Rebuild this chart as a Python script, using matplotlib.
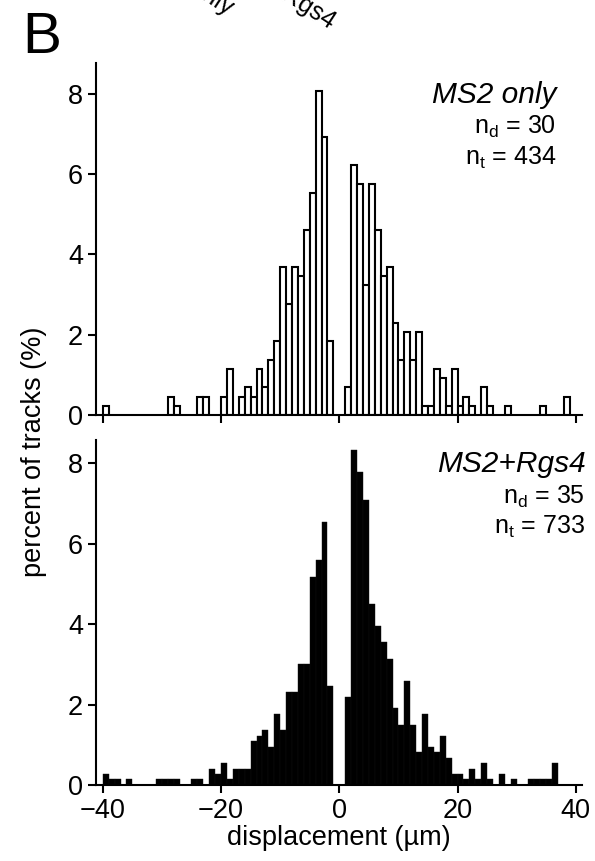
import numpy as np
import matplotlib
matplotlib.use("Agg")
import matplotlib.pyplot as plt

plt.rcParams['font.family'] = ['Liberation Sans', 'DejaVu Sans']
plt.rcParams['mathtext.fontset'] = 'custom'
plt.rcParams['mathtext.rm'] = 'Liberation Sans'
plt.rcParams['axes.unicode_minus'] = True

# left edges of the 1 um displacement bins
bin_left = list(range(-40, 40))

# percent of tracks per bin, MS2 only (n_t = 434)
ms2_only = [
    0.23, 0, 0, 0, 0, 0, 0, 0, 0, 0,
    0, 0.46, 0.23, 0, 0, 0, 0.46, 0.46, 0, 0,
    0.46, 1.15, 0, 0.46, 0.69, 0.46, 1.15, 0.69, 1.38, 1.84,
    3.69, 2.76, 3.69, 3.46, 4.61, 5.53, 8.06, 6.91, 1.84, 0,
    0, 0.69, 6.22, 5.76, 3.23, 5.76, 4.61, 3.46, 3.69, 2.30,
    1.38, 2.07, 1.38, 2.07, 0.23, 0.23, 1.15, 0.92, 0.23, 1.15,
    0.23, 0.46, 0.23, 0, 0.69, 0.23, 0, 0, 0.23, 0,
    0, 0, 0, 0, 0.23, 0, 0, 0, 0.46, 0,
]

# percent of tracks per bin, MS2+Rgs4 (n_t = 733)
ms2_rgs4 = [
    0.27, 0.14, 0.14, 0, 0.14, 0, 0, 0, 0, 0.14,
    0.14, 0.14, 0.14, 0, 0, 0.14, 0.14, 0, 0.41, 0.27,
    0.55, 0.14, 0.41, 0.41, 0.41, 1.09, 1.23, 1.36, 0.95, 1.77,
    1.36, 2.32, 2.32, 3.00, 3.00, 5.18, 5.59, 6.55, 2.46, 0,
    0, 2.18, 8.32, 7.78, 7.09, 4.50, 3.96, 3.55, 3.14, 1.91,
    1.50, 2.59, 1.50, 0.82, 1.77, 0.95, 0.82, 1.23, 0.68, 0.27,
    0.27, 0.14, 0.41, 0.14, 0.55, 0.14, 0, 0.27, 0, 0.14,
    0, 0, 0.14, 0.14, 0.14, 0.14, 0.55, 0, 0, 0,
]

panel_names = ['MS2 only', 'MS2+Rgs4']
n_dishes = [30, 35]
n_tracks = [434, 733]
x_ticks = [-40, -20, 0, 20, 40]
y_ticks = [0, 2, 4, 6, 8]

W, H = 595, 861
fig = plt.figure(figsize=(W / 100, H / 100), dpi=100)

ax_top = fig.add_axes([95.7 / W, 1 - 415 / H, 486 / W, 352 / H])
ax_bot = fig.add_axes([95.7 / W, 1 - 785 / H, 486 / W, 345 / H])


def style_axis(ax, ytop):
    ax.set_xlim(-41.2, 41.0)
    ax.set_ylim(0, ytop)
    for s in ['top', 'right']:
        ax.spines[s].set_visible(False)
    for s in ['left', 'bottom']:
        ax.spines[s].set_linewidth(1.5)
    ax.set_xticks(x_ticks)
    ax.set_yticks(y_ticks)
    ax.tick_params(direction='out', length=6, width=1.5, labelsize=19.5, pad=3)


def bars(ax, values, **kw):
    xs = [b for b, v in zip(bin_left, values) if v > 0]
    hs = [v for v in values if v > 0]
    ax.bar(xs, hs, width=1.0, align='edge', **kw)


bars(ax_top, ms2_only, facecolor='white', edgecolor='black', linewidth=1.5, zorder=1)
bars(ax_bot, ms2_rgs4, facecolor='black', edgecolor='#111111', linewidth=0.3, zorder=1)

style_axis(ax_top, 8.76)
style_axis(ax_bot, 8.58)
ax_top.tick_params(labelbottom=False)
ax_bot.set_xticklabels(['\u221240', '\u221220', '0', '20', '40'])
ax_bot.set_xlabel('displacement (\u00b5m)', fontsize=19.5, labelpad=1)

# panel annotations
ax_top.text(0.949, 0.887, panel_names[0], transform=ax_top.transAxes,
            ha='right', va='baseline', fontsize=21.5, style='italic')
ax_top.text(0.947, 0.818, r'n$_\mathrm{d}$ = %d' % n_dishes[0], transform=ax_top.transAxes,
            ha='right', va='center', fontsize=18)
ax_top.text(0.947, 0.730, r'n$_\mathrm{t}$ = %d' % n_tracks[0], transform=ax_top.transAxes,
            ha='right', va='center', fontsize=18)

ax_bot.text(1.009, 0.908, panel_names[1], transform=ax_bot.transAxes,
            ha='right', va='baseline', fontsize=21.5, style='italic')
ax_bot.text(1.007, 0.835, r'n$_\mathrm{d}$ = %d' % n_dishes[1], transform=ax_bot.transAxes,
            ha='right', va='center', fontsize=18)
ax_bot.text(1.007, 0.748, r'n$_\mathrm{t}$ = %d' % n_tracks[1], transform=ax_bot.transAxes,
            ha='right', va='center', fontsize=18)

fig.text(34 / W, 1 - 452 / H, 'percent of tracks (%)', rotation=90,
         ha='center', va='center', fontsize=19.5)

fig.text(22 / W, 1 - 53 / H, 'B', ha='left', va='baseline', fontsize=42)

# cut-off labels from the panel above
fig.text(227 / W, 1 - 16 / H, 'MS2 only', rotation=-33, rotation_mode='anchor',
         ha='right', va='baseline', fontsize=18)
fig.text(329 / W, 1 - 30 / H, 'MS2+Rgs4', rotation=-33, rotation_mode='anchor',
         ha='right', va='baseline', fontsize=18)

fig.savefig('out.png', dpi=100)
